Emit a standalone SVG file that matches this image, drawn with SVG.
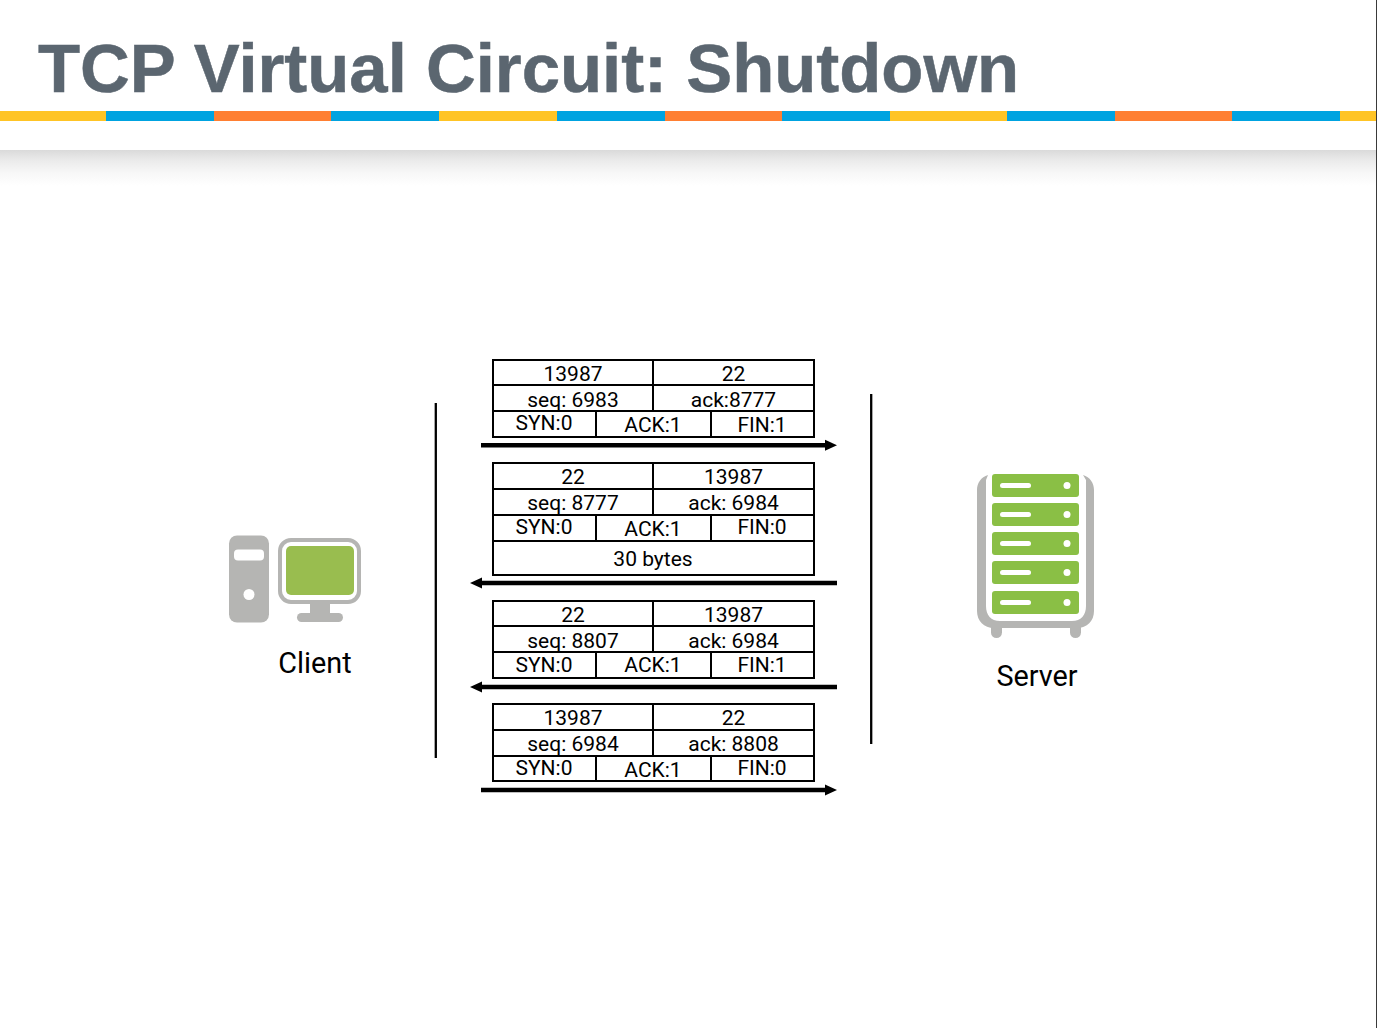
<svg xmlns="http://www.w3.org/2000/svg" width="1377" height="1028" viewBox="0 0 1377 1028">
<style>
.t{font-family:Roboto,"Liberation Sans",sans-serif;font-size:21px;fill:#000;text-anchor:middle}
.l{font-family:Roboto,"Liberation Sans",sans-serif;font-size:28.800px;fill:#000;text-anchor:middle}
.g{fill:none;stroke:#000;stroke-width:2}
.a{stroke:#000;stroke-width:4.400;fill:none}
.v{stroke:#000;stroke-width:2.300;fill:none}
.ic{fill:#b5b5b3}
.sg{fill:#8abf45}
.w{fill:#fff}
.y{fill:#ffc425}.b{fill:#00a3e0}.o{fill:#ff7f32}
</style>
<defs>
<linearGradient id="sh" x1="0" y1="0" x2="0" y2="1"><stop offset="0" stop-color="#dadada"/><stop offset="0.3" stop-color="#ebebeb"/><stop offset="0.65" stop-color="#f8f8f8"/><stop offset="1" stop-color="#fff"/></linearGradient>
<marker id="ah" markerUnits="userSpaceOnUse" markerWidth="12" markerHeight="12" refX="0" refY="6" orient="auto"><path d="M0 0.500L12 6L0 11.500Z" fill="#000"/></marker>
</defs>
<rect width="1377" height="1028" fill="#fff"/>
<rect y="150" width="1376" height="36" fill="url(#sh)"/>
<rect x="1376" y="0" width="1" height="1028" fill="#3a3a3a"/>
<g id="title-bar">
<rect class="y" x="0" y="111" width="106" height="10"/><rect class="b" x="106" y="111" width="108" height="10"/><rect class="o" x="214" y="111" width="117" height="10"/><rect class="b" x="331" y="111" width="108" height="10"/>
<rect class="y" x="439" y="111" width="118" height="10"/><rect class="b" x="557" y="111" width="108" height="10"/><rect class="o" x="665" y="111" width="117" height="10"/><rect class="b" x="782" y="111" width="108" height="10"/>
<rect class="y" x="890" y="111" width="117" height="10"/><rect class="b" x="1007" y="111" width="108" height="10"/><rect class="o" x="1115" y="111" width="117" height="10"/><rect class="b" x="1232" y="111" width="108" height="10"/><rect class="y" x="1340" y="111" width="36" height="10"/>
<text x="38" y="92" font-family="'Liberation Sans',Arial,sans-serif" font-weight="700" font-size="68.900" fill="#5b6670" stroke="#5b6670" stroke-width="0.500">TCP Virtual Circuit: Shutdown</text>
</g>
<g id="client">
<rect class="ic" x="229" y="535.500" width="40" height="87" rx="8"/>
<rect class="w" x="234" y="549.500" width="30" height="11" rx="4"/>
<circle class="w" cx="249" cy="594.500" r="5.500"/>
<rect x="280" y="540" width="79" height="62" rx="11" fill="#fff" stroke="#b5b5b3" stroke-width="4"/>
<rect x="286" y="546" width="68" height="49" rx="5" fill="#99bd4f"/>
<rect class="ic" x="310" y="604" width="20" height="9"/>
<rect class="ic" x="297" y="613" width="46" height="9" rx="4.500"/>
<text class="l" x="315" y="673">Client</text>
</g>
<g id="server">
<rect class="ic" x="991" y="622" width="11" height="16" rx="5.500"/>
<rect class="ic" x="1070" y="622" width="11" height="16" rx="5.500"/>
<path class="ic" d="M988 475C981 477 977 483 977 490V611C977 621 984 628 994 628H1077C1087 628 1094 621 1094 611V490C1094 483 1090 477 1083 475L1086 480V606C1086 615 1081 621 1072 621H1000C991 621 986 615 986 606V480Z"/>
<g class="sg"><rect x="992" y="474" width="87" height="23" rx="3"/><rect x="992" y="503" width="87" height="23" rx="3"/><rect x="992" y="532" width="87" height="23" rx="3"/><rect x="992" y="561" width="87" height="23" rx="3"/><rect x="992" y="591" width="87" height="23" rx="3"/></g>
<g class="w"><rect x="1000" y="483" width="31" height="5" rx="2.500"/><circle cx="1067" cy="485.500" r="3.500"/><rect x="1000" y="512" width="31" height="5" rx="2.500"/><circle cx="1067" cy="514.500" r="3.500"/><rect x="1000" y="541" width="31" height="5" rx="2.500"/><circle cx="1067" cy="543.500" r="3.500"/><rect x="1000" y="570" width="31" height="5" rx="2.500"/><circle cx="1067" cy="572.500" r="3.500"/><rect x="1000" y="600" width="31" height="5" rx="2.500"/><circle cx="1067" cy="602.500" r="3.500"/></g>
<text class="l" x="1037" y="686">Server</text>
</g>
<g id="segment-1">
<rect class="g" x="493" y="360" width="321" height="77"/>
<path class="g" d="M493 385H814M493 411H814M653 360V411M596 411V437M711 411V437"/>
<text class="t" x="573" y="381">13987</text><text class="t" x="733.500" y="381">22</text>
<text class="t" x="573" y="407">seq: 6983</text><text class="t" x="733.500" y="407">ack:8777</text>
<text class="t" x="544" y="430">SYN:0</text><text class="t" x="653" y="432">ACK:1</text><text class="t" x="762" y="432">FIN:1</text>
</g>
<g id="segment-2">
<rect class="g" x="493" y="463" width="321" height="112"/>
<path class="g" d="M493 489H814M493 515H814M493 541H814M653 463V515M596 515V541M711 515V541"/>
<text class="t" x="573" y="484">22</text><text class="t" x="733.500" y="484">13987</text>
<text class="t" x="573" y="510">seq: 8777</text><text class="t" x="733.500" y="510">ack: 6984</text>
<text class="t" x="544" y="534">SYN:0</text><text class="t" x="653" y="536">ACK:1</text><text class="t" x="762" y="534">FIN:0</text>
<text class="t" x="653" y="566">30 bytes</text>
</g>
<g id="segment-3">
<rect class="g" x="493" y="601" width="321" height="77"/>
<path class="g" d="M493 626H814M493 652H814M653 601V652M596 652V678M711 652V678"/>
<text class="t" x="573" y="622">22</text><text class="t" x="733.500" y="622">13987</text>
<text class="t" x="573" y="648">seq: 8807</text><text class="t" x="733.500" y="648">ack: 6984</text>
<text class="t" x="544" y="672">SYN:0</text><text class="t" x="653" y="672">ACK:1</text><text class="t" x="762" y="672">FIN:1</text>
</g>
<g id="segment-4">
<rect class="g" x="493" y="704" width="321" height="77"/>
<path class="g" d="M493 730H814M493 756H814M653 704V756M596 756V781M711 756V781"/>
<text class="t" x="573" y="725">13987</text><text class="t" x="733.500" y="725">22</text>
<text class="t" x="573" y="751">seq: 6984</text><text class="t" x="733.500" y="751">ack: 8808</text>
<text class="t" x="544" y="775">SYN:0</text><text class="t" x="653" y="777">ACK:1</text><text class="t" x="762" y="775">FIN:0</text>
</g>
<g id="connectors">
<path class="v" d="M435.800 403V758"/>
<path class="v" d="M871.200 394V744"/>
<path class="a" marker-end="url(#ah)" d="M481 445.200H825"/>
<path class="a" marker-end="url(#ah)" d="M837 583H482"/>
<path class="a" marker-end="url(#ah)" d="M837 687H482"/>
<path class="a" marker-end="url(#ah)" d="M481 790H825"/>
</g>
</svg>
